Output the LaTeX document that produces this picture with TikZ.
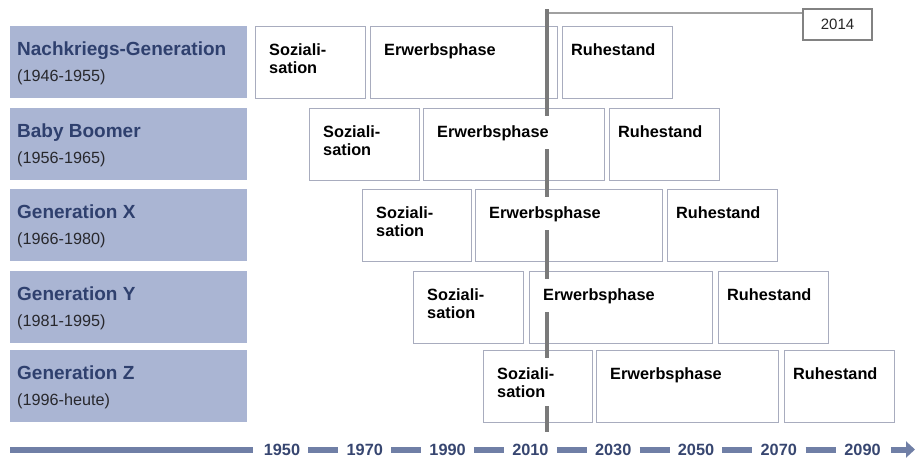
\documentclass[tikz,border=0pt]{standalone}
\usepackage{fontspec}
\setmainfont{Liberation Sans}
\usetikzlibrary{arrows.meta,calc}
\definecolor{genfill}{RGB}{170,181,211}
\definecolor{gentitle}{RGB}{47,64,110}
\definecolor{gensub}{RGB}{40,40,45}
\definecolor{phaseline}{RGB}{168,172,190}
\definecolor{markline}{RGB}{122,122,122}
\definecolor{hline}{RGB}{160,160,160}
\definecolor{markbox}{RGB}{130,130,130}
\definecolor{axisbar}{RGB}{112,127,166}
\definecolor{axistext}{RGB}{55,70,112}
\begin{document}
\begin{tikzpicture}[x=1pt,y=-1pt,
  genbox/.style={fill=genfill, draw=none, minimum width=237pt, minimum height=72pt, anchor=north west, inner sep=0pt},
  gentitletext/.style={anchor=base west, inner sep=0pt, text=gentitle, font=\fontsize{19}{22}\selectfont\bfseries},
  gensubtext/.style={anchor=base west, inner sep=0pt, text=gensub, font=\fontsize{16.2}{18}\selectfont},
  phasebox/.style={draw=phaseline, line width=1.4pt, fill=white, minimum height=72pt, anchor=north west, inner sep=0pt},
  phasetext/.style={anchor=north west, align=left, inner xsep=1pt, inner ysep=9pt, fill=white, text=black, font=\fontsize{16.3}{18}\selectfont\bfseries},
  axislabel/.style={inner sep=0pt, text=axistext, font=\fontsize{16.3}{18}\selectfont\bfseries},
  axisseg/.style={draw=axisbar, line width=6pt}
]
\useasboundingbox (0,0) rectangle (915,459);

% generation boxes
\node[genbox] (g1) at (10,26) {};
\node[genbox] (g2) at (10,108) {};
\node[genbox] (g3) at (10,189) {};
\node[genbox] (g4) at (10,271) {};
\node[genbox] (g5) at (10,350) {};
\node[gentitletext] (t1) at ($(g1.north west)+(7,29)$) {Nachkriegs-Generation};
\node[gensubtext] (u1) at ($(g1.north west)+(7,55)$) {(1946-1955)};
\node[gentitletext] (t2) at ($(g2.north west)+(7,29)$) {Baby Boomer};
\node[gensubtext] (u2) at ($(g2.north west)+(7,55)$) {(1956-1965)};
\node[gentitletext] (t3) at ($(g3.north west)+(7,29)$) {Generation X};
\node[gensubtext] (u3) at ($(g3.north west)+(7,55)$) {(1966-1980)};
\node[gentitletext] (t4) at ($(g4.north west)+(7,29)$) {Generation Y};
\node[gensubtext] (u4) at ($(g4.north west)+(7,55)$) {(1981-1995)};
\node[gentitletext] (t5) at ($(g5.north west)+(7,29)$) {Generation Z};
\node[gensubtext] (u5) at ($(g5.north west)+(7,55)$) {(1996-heute)};

% phase boxes
\node[phasebox, minimum width=110pt] (s1) at (255,26) {};
\node[phasebox, minimum width=187pt] (e1) at (370,26) {};
\node[phasebox, minimum width=110pt] (r1) at (562,26) {};
\node[phasebox, minimum width=110pt] (s2) at (309,108) {};
\node[phasebox, minimum width=181pt] (e2) at (423,108) {};
\node[phasebox, minimum width=110pt] (r2) at (609,108) {};
\node[phasebox, minimum width=109pt] (s3) at (362,189) {};
\node[phasebox, minimum width=187pt] (e3) at (475,189) {};
\node[phasebox, minimum width=110pt] (r3) at (667,189) {};
\node[phasebox, minimum width=110pt] (s4) at (413,271) {};
\node[phasebox, minimum width=183pt] (e4) at (529,271) {};
\node[phasebox, minimum width=110pt] (r4) at (718,271) {};
\node[phasebox, minimum width=109pt] (s5) at (483,350) {};
\node[phasebox, minimum width=182pt] (e5) at (596,350) {};
\node[phasebox, minimum width=110pt] (r5) at (784,350) {};

% 2014 marker
\node[draw=markbox, line width=1.2pt, minimum width=69pt, minimum height=31pt, inner sep=0pt, text=black!85, font=\fontsize{15}{18}\selectfont] (y2014) at (837.5,24.5) {2014};
\coordinate (mtop) at (547,9);
\coordinate (mbot) at (547,432);
\coordinate (mh) at (547,13);
\draw[hline, line width=1.8pt] (mh) -- (mh -| y2014.west);
\draw[markline, line width=3.5pt] (mtop) -- (mbot);

% phase texts
\foreach \i in {1,...,5}{
  \node[phasetext] (st\i) at ($(s\i.north west)+(13,8)$) {Soziali-\\sation};
  \node[phasetext] (et\i) at ($(e\i.north west)+(13,8)$) {Erwerbsphase};
  \node[phasetext] (rt\i) at ($(r\i.north west)+(8,8)$) {Ruhestand};
}

% time axis
\coordinate (a0) at (10,449.5);
\coordinate (aend) at (915,449.5);
\node[axislabel] (l1) at (282,450) {1950};
\node[axislabel] (l2) at (364.8,450) {1970};
\node[axislabel] (l3) at (447.6,450) {1990};
\node[axislabel] (l4) at (530.4,450) {2010};
\node[axislabel] (l5) at (613.2,450) {2030};
\node[axislabel] (l6) at (696,450) {2050};
\node[axislabel] (l7) at (778.8,450) {2070};
\node[axislabel] (l8) at (862.5,450) {2090};
\draw[axisseg] (a0) -- (a0 -| {$(l1.west)+(-11,0)$});
\foreach \a/\b in {l1/l2,l2/l3,l3/l4,l4/l5,l5/l6,l6/l7,l7/l8}{
  \draw[axisseg] ($($(\a.east)!0.5!(\b.west)$)+(-15,0)$) -- ($($(\a.east)!0.5!(\b.west)$)+(15,0)$);
}
\draw[axisseg, -{Triangle[length=9pt,width=16pt]}] (aend -| {$(l8.east)+(10,0)$}) -- (aend);
\end{tikzpicture}
\end{document}
